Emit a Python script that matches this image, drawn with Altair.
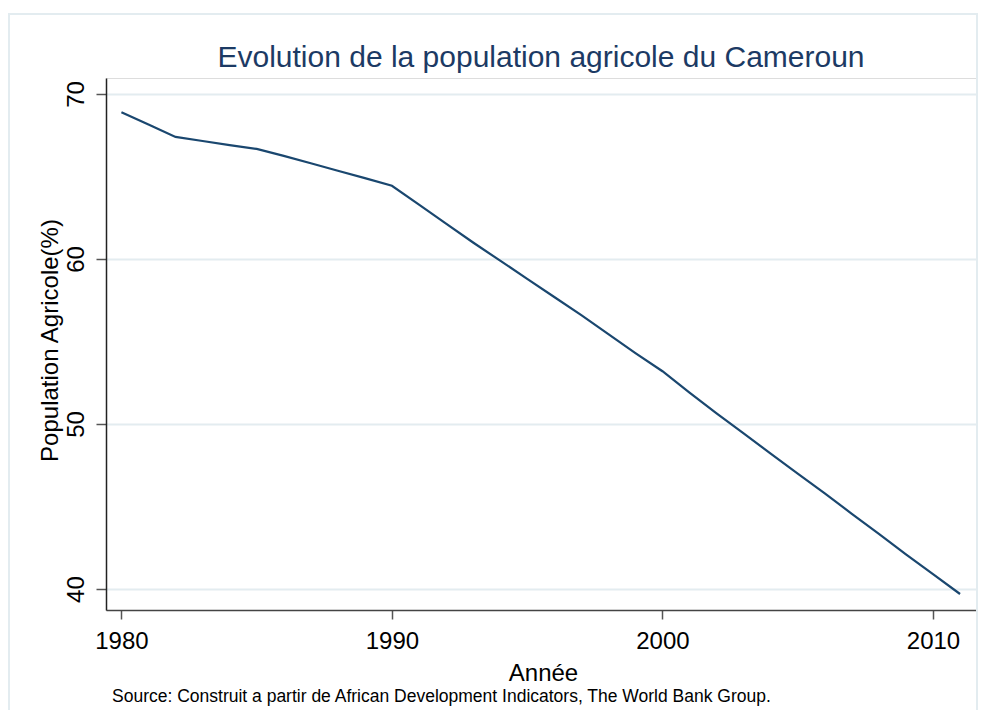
import altair as alt
import pandas as pd

years = list(range(1980, 2012))
agri_pop = [68.9, 68.15, 67.4, 67.15, 66.9, 66.67, 66.25, 65.8, 65.35, 64.9,
            64.44, 63.3, 62.15, 61.0, 59.9, 58.8, 57.7, 56.6, 55.45, 54.3,
            53.2, 51.9, 50.64, 49.43, 48.2, 47.0, 45.8, 44.56, 43.35, 42.1,
            40.9, 39.7]
x_ticks = [1980, 1990, 2000, 2010]
y_ticks = [40, 50, 60, 70]

title_text = "Evolution de la population agricole du Cameroun"
x_title = "Année"
y_title = "Population Agricole(%)"
note_text = "Source: Construit a partir de African Development Indicators, The World Bank Group."

df = pd.DataFrame({"annee": years, "pop": agri_pop})
one = pd.DataFrame({"k": [0]})

FONT = "Liberation Sans"
W, H = 870, 532

frame = alt.Chart(one).mark_rect(fill=None, stroke="#e3ecf0", strokeWidth=2, clip=False).encode(
    x=alt.value(-97), x2=alt.value(871), y=alt.value(-64), y2=alt.value(720)
)

line = alt.Chart(df).mark_line(color="#1a476f", strokeWidth=2.2).encode(
    x=alt.X("annee:Q", scale=alt.Scale(domain=[1979.43, 2011.59], nice=False, zero=False),
            axis=alt.Axis(values=x_ticks, format="d", title=x_title, grid=False,
                          labelFontSize=24, labelFont=FONT, labelColor="#000",
                          labelBaseline="alphabetic", labelPadding=29,
                          tickSize=9, tickColor="#555", tickWidth=1.5,
                          domainColor="#444", domainWidth=1.5,
                          titleFontSize=24, titleFont=FONT, titleFontWeight="normal",
                          titleColor="#000", titleBaseline="alphabetic",
                          titleX=437, titleY=70)),
    y=alt.Y("pop:Q", scale=alt.Scale(domain=[38.73, 70.97], nice=False, zero=False),
            axis=alt.Axis(values=y_ticks, format="d", title=y_title, grid=True,
                          gridColor="#e3ecf0", gridWidth=2,
                          labelFontSize=24, labelFont=FONT, labelColor="#000",
                          labelAngle=-90, labelAlign="center", labelBaseline="alphabetic",
                          labelPadding=13,
                          tickSize=10, tickColor="#555", tickWidth=1.5,
                          domainColor="#222", domainWidth=1.5,
                          titleFontSize=24, titleFont=FONT, titleFontWeight="normal",
                          titleColor="#000", titleAngle=-90, titleAlign="center",
                          titleBaseline="alphabetic", titleX=-49, titleY=262)),
)

title = alt.Chart(one).mark_text(align="center", baseline="alphabetic", fontSize=30,
                                 font=FONT, color="#1c3a64", clip=False).encode(
    x=alt.value(W / 2), y=alt.value(-11), text=alt.value(title_text)
)

note = alt.Chart(one).mark_text(align="left", baseline="alphabetic", fontSize=17.5,
                                font=FONT, color="#000", clip=False).encode(
    x=alt.value(6), y=alt.value(624), text=alt.value(note_text)
)

chart = alt.layer(frame, line, title, note).properties(
    width=W, height=H,
    autosize=alt.AutoSizeParams(type="none"),
    padding={"left": 98, "top": 70, "right": 2, "bottom": 100},
).configure_view(stroke=None).configure(background="white")

chart.save("out.html", embed_options={"renderer": "svg", "actions": False})
